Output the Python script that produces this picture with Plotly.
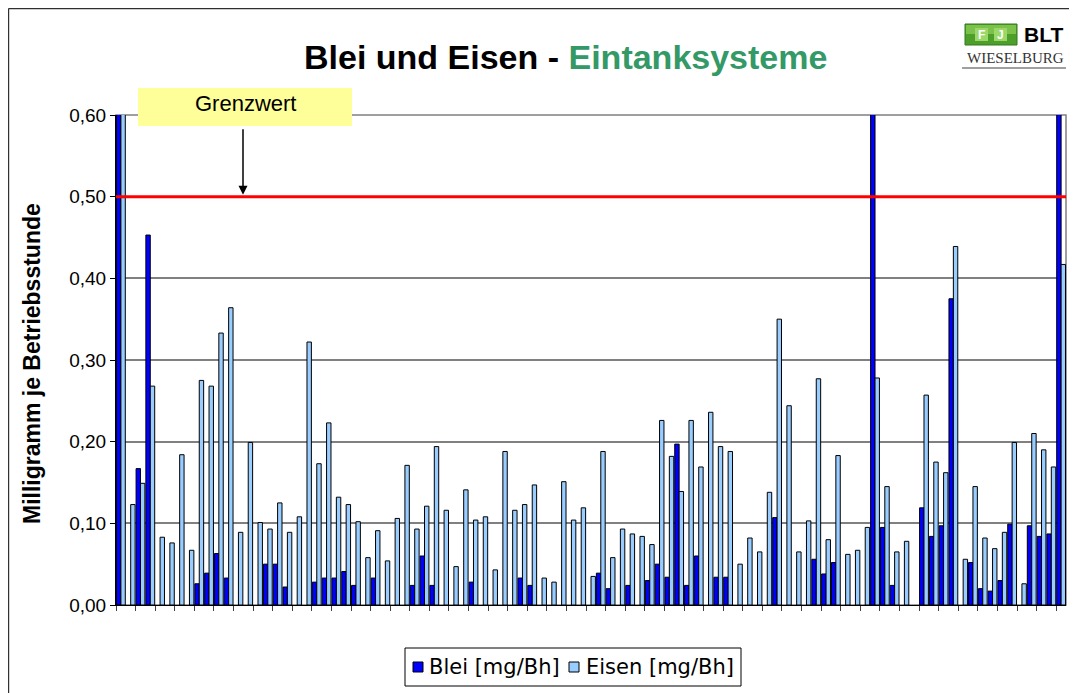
import plotly.graph_objects as go

# ---------------- data ----------------
systeme = [str(i) for i in range(1, 98)]

blei = [0.72, None, 0.167, 0.453, None, None, None, None, 0.026, 0.039,
        0.063, 0.033, None, None, None, 0.050, 0.050, 0.022, None, None,
        0.028, 0.033, 0.033, 0.041, 0.024, None, 0.033, None, None, None,
        0.024, 0.060, 0.024, None, None, None, 0.028, None, None, None,
        None, 0.033, 0.024, None, None, None, None, None, None, 0.039,
        0.020, None, 0.024, None, 0.030, 0.050, 0.034, 0.197, 0.024, 0.060,
        None, 0.034, 0.034, None, None, None, None, 0.107, None, None,
        None, 0.056, 0.038, 0.052, None, None, None, 0.72, 0.095, 0.024,
        None, None, 0.119, 0.084, 0.097, 0.375, None, 0.052, 0.020, 0.017,
        0.030, 0.099, None, 0.097, 0.084, 0.087, 0.72]

eisen = [0.66, 0.123, 0.149, 0.268, 0.083, 0.076, 0.184, 0.067, 0.275, 0.268,
         0.333, 0.364, 0.089, 0.199, 0.101, 0.093, 0.125, 0.089, 0.108, 0.322,
         0.173, 0.223, 0.132, 0.123, 0.102, 0.058, 0.091, 0.054, 0.106, 0.171,
         0.093, 0.121, 0.194, 0.116, 0.047, 0.141, 0.104, 0.108, 0.043, 0.188,
         0.116, 0.123, 0.147, 0.033, 0.028, 0.151, 0.104, 0.119, 0.035, 0.188,
         0.058, 0.093, 0.087, 0.084, 0.074, 0.226, 0.182, 0.139, 0.226, 0.169,
         0.236, 0.194, 0.188, 0.050, 0.082, 0.065, 0.138, 0.350, 0.244, 0.065,
         0.103, 0.277, 0.080, 0.183, 0.062, 0.067, 0.095, 0.278, 0.145, 0.065,
         0.078, None, 0.257, 0.175, 0.162, 0.439, 0.056, 0.145, 0.082, 0.069,
         0.089, 0.199, 0.026, 0.210, 0.190, 0.169, 0.417]

grenzwert = 0.5
y_ticks = [0.0, 0.1, 0.2, 0.3, 0.4, 0.5, 0.6]
series_names = ["Blei [mg/Bh]", "Eisen [mg/Bh]"]
series_colors = ["#0000ff", "#99ccff"]

# ---------------- layout helpers ----------------
# the page body has an 8 px margin, so the figure starts at (8, 8) of the window
OFF = 8
W, H = 1077 - OFF, 693 - OFF
X0, X1 = 116, 1066          # plot area in window pixels
Y0, Y1 = 115, 605           # top (0.60) and bottom (0.00) in window pixels
L, R = X0 - OFF, W - (X1 - OFF)
T, B = Y0 - OFF, H - (Y1 - OFF)
PW, PH = X1 - X0, Y1 - Y0


def px(x):
    return (x - X0) / PW


def py(y):
    return (Y1 - y) / PH


def rect(x0, y0, x1, y1, **kw):
    return dict(type="rect", xref="paper", yref="paper",
                x0=px(x0), x1=px(x1), y0=py(y1), y1=py(y0), **kw)


def text(x, y, s, size, family="Liberation Sans, Arial", color="black", bold=False,
         xanchor="center", angle=0):
    return dict(xref="paper", yref="paper", x=px(x), y=py(y), showarrow=False, text=s,
                textangle=angle, xanchor=xanchor, yanchor="middle",
                font=dict(family=family, size=size, color=color,
                          weight="bold" if bold else "normal"))


fig = go.Figure()
for name, vals, col in zip(series_names, [blei, eisen], series_colors):
    fig.add_trace(go.Bar(x=systeme, y=vals, name=name,
                         marker=dict(color=col, line=dict(color="black", width=1))))

shapes = [
    # plot-area frame (grey)
    dict(type="rect", xref="paper", yref="paper", x0=0, x1=1, y0=0, y1=1,
         line=dict(color="#808080", width=1.5), layer="below"),
    dict(type="line", xref="paper", yref="y", x0=0, x1=1, y0=0.4, y1=0.4,
         line=dict(color="black", width=1), layer="below"),
    # Grenzwert line
    dict(type="line", xref="paper", yref="y", x0=0, x1=1, y0=grenzwert, y1=grenzwert,
         line=dict(color="#ff0000", width=3), layer="above"),
    # yellow label box
    rect(138, 88, 352, 126, fillcolor="#ffff99", line=dict(width=0), layer="above"),
    # outer chart border (top and left visible)
    dict(type="line", xref="paper", yref="paper", x0=px(8.5), x1=px(1090), y0=py(8.6), y1=py(8.6),
         line=dict(color="#303030", width=1.2)),
    dict(type="line", xref="paper", yref="paper", x0=px(8.6), x1=px(8.6), y0=py(8.5), y1=py(700),
         line=dict(color="#303030", width=1.2)),
    # logo
    rect(965, 24, 1017, 45, fillcolor="#4e9e2a", line=dict(color="#2f7a1c", width=1)),
    rect(966, 25, 1016, 34, fillcolor="#7cc24a", line=dict(width=0)),
    rect(975, 28, 988, 41, fillcolor="#9ad86a", line=dict(width=0)),
    rect(994, 28, 1007, 41, fillcolor="#9ad86a", line=dict(width=0)),
    dict(type="line", xref="paper", yref="paper", x0=px(962), x1=px(1066), y0=py(68), y1=py(68),
         line=dict(color="#404040", width=1)),
    # legend box and keys
    rect(405, 648, 741, 686, fillcolor="white", line=dict(color="black", width=1)),
    rect(413, 662, 423, 672, fillcolor=series_colors[0], line=dict(color="black", width=1)),
    rect(569, 662, 579, 672, fillcolor=series_colors[1], line=dict(color="black", width=1)),
]

annotations = [
    dict(xref="paper", yref="paper", x=px(565), y=py(57), showarrow=False,
         text="Blei und Eisen - <span style='color:#339966'>Eintanksysteme</span>",
         font=dict(family="Liberation Sans, Arial", size=34, color="black", weight="bold"),
         xanchor="center", yanchor="middle"),
    text(32, 364, "Milligramm je Betriebsstunde", 23, bold=True, angle=-90),
    text(245, 104, "Grenzwert", 22),
    dict(xref="paper", yref="y", x=px(243), y=grenzwert, text="", showarrow=True,
         arrowhead=2, arrowsize=1.2, arrowwidth=1.5, arrowcolor="black",
         ax=0, ay=-69, standoff=2),
    text(981.5, 35, "F", 12, color="white", bold=True),
    text(1000.5, 35, "J", 12, color="white", bold=True),
    text(1043, 34, "BLT", 21, bold=True),
    text(1015, 58, "WIESELBURG", 15, family="Liberation Serif, DejaVu Serif", color="#333333"),
    text(427, 667, series_names[0], 21, family="DejaVu Sans", xanchor="left"),
    text(584, 667, series_names[1], 21, family="DejaVu Sans", xanchor="left"),
]

fig.update_layout(
    width=W, height=H,
    margin=dict(l=L, r=R, t=T, b=B, pad=0),
    paper_bgcolor="white", plot_bgcolor="white",
    barmode="group", bargap=0.1, bargroupgap=0,
    separators=",.",
    showlegend=False,
    shapes=shapes,
    annotations=annotations,
    xaxis=dict(type="category", showticklabels=False, ticks="outside", tickson="boundaries",
               ticklen=5, tickcolor="#404040", tickwidth=1, automargin=False,
               showline=True, linecolor="black", linewidth=1, showgrid=False,
               range=[-0.5, len(systeme) - 0.5]),
    yaxis=dict(range=[0, 0.6], tickvals=y_ticks, tickformat=".2f", automargin=False,
               showgrid=True, gridcolor="#808080", gridwidth=1.5,
               showline=True, linecolor="black", linewidth=1,
               ticks="outside", ticklen=5, tickcolor="black",
               tickfont=dict(family="Liberation Sans, Arial", size=19, color="black"),
               zeroline=False),
)

fig.write_html("out.html")
